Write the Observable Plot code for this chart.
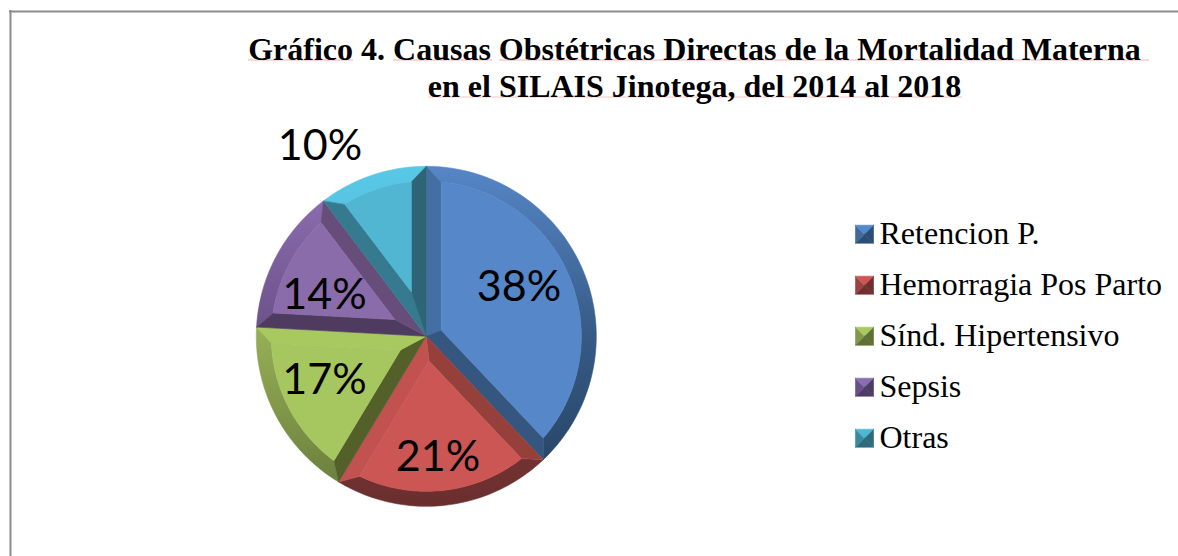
<!DOCTYPE html>
<html><head><meta charset="utf-8">
<script src="https://cdn.jsdelivr.net/npm/d3@7"></script>
<script src="https://cdn.jsdelivr.net/npm/@observablehq/plot@0.6"></script>
<style>html,body{margin:0;padding:0;background:#fff}svg{display:block}</style>
</head><body><div id="chart"></div>
<script>
const categories = ["Retencion P.", "Hemorragia Pos Parto", "Sínd. Hipertensivo", "Sepsis", "Otras"];
const cases = [11, 6, 5, 4, 3];
const titleLines = ["Gráfico 4. Causas Obstétricas Directas de la Mortalidad Materna", "en el SILAIS Jinotega, del 2014 al 2018"];
const faceColors = ["#5587c9", "#cc5654", "#a6c65f", "#8a6cab", "#50b6d2"];
const startEdgeColors = ["#446fa5", "#96403c", "#536029", "#4f3b60", "#367a90"];
const endEdgeColors = ["#35577f", "#c25250", "#a8c860", "#664d7a", "#2d6577"];
const rimTopColors = ["#5686c7", "#9c4340", "#a8c860", "#9272b8", "#58c8e6"];
const rimMidColors = ["#365a85", "#8a3c3a", "#95ae55", "#6a5088", "#52b8d6"];
const rimBottomColors = ["#24405f", "#6a2e2e", "#66783a", "#5a4478", "#4aa8c4"];
const swatchColors = [["#4f8acb","#3f6a9a","#2c4d75"],["#cf5552","#9c4240","#702f2f"],["#a8ca60","#82994a","#5f7034"],["#8a6cb0","#66508a","#4e3b66"],["#4db8d6","#368aa2","#2e6a7c"]];

const W = 1178, H = 556, cx = 425.8, cy = 335.8, R = 170, bevel = 15;
const total = d3.sum(cases);
const pt = (a, r) => ({x: cx + r * Math.sin(a), y: cy - r * Math.cos(a)});
const arc = (a0, a1, r) => d3.range(0, 61).map(i => pt(a0 + (a1 - a0) * i / 60, r));

let cum = 0;
const slices = cases.map((p, i) => {
  const a0 = cum / total * 2 * Math.PI; cum += p;
  const a1 = cum / total * 2 * Math.PI;
  const half = (a1 - a0) / 2, mid = a0 + half;
  const apex = pt(mid, bevel / Math.sin(half));
  const ri = R - bevel;
  const da = Math.asin(bevel / ri);
  const i0 = a0 + da, i1 = a1 - da;
  const center = {x: cx, y: cy};
  return {
    i,
    face: [apex, ...arc(i0, i1, ri), apex],
    rim: [...arc(a0, a1, R), ...arc(i1, i0, ri)],
    start: [center, pt(a0, R), pt(i0, ri), apex, center],
    end: [center, pt(a1, R), pt(i1, ri), apex, center]
  };
});

const defs = () => {
  const ns = "http://www.w3.org/2000/svg";
  const d = document.createElementNS(ns, "defs");
  rimTopColors.forEach((c, i) => {
    const g = document.createElementNS(ns, "linearGradient");
    g.setAttribute("id", "rim" + i);
    g.setAttribute("gradientUnits", "userSpaceOnUse");
    g.setAttribute("x1", 0); g.setAttribute("x2", 0);
    g.setAttribute("y1", cy - R); g.setAttribute("y2", cy + R);
    [[0, c], [0.5, rimMidColors[i]], [1, rimBottomColors[i]]].forEach(([o, col]) => {
      const s = document.createElementNS(ns, "stop");
      s.setAttribute("offset", o); s.setAttribute("stop-color", col);
      g.appendChild(s);
    });
    d.appendChild(g);
  });
  return d;
};

const poly = (pts, fill) => Plot.line(pts, {x: "x", y: "y", fill, stroke: fill, strokeWidth: 0.6, curve: "linear"});

const marks = [defs];
marks.push(Plot.ruleX([10], {y1: 10, y2: H, stroke: "#8c8c8c", strokeWidth: 2}));
marks.push(Plot.ruleY([11], {x1: 9, x2: W, stroke: "#8c8c8c", strokeWidth: 2}));
slices.forEach(s => {
  marks.push(poly(s.rim, `url(#rim${s.i})`));
  marks.push(poly(s.start, startEdgeColors[s.i]));
  marks.push(poly(s.end, endEdgeColors[s.i]));
  marks.push(poly(s.face, faceColors[s.i]));
});

const labelPos = [[518.5, 287], [437.5, 457], [324, 380], [324, 295], [319.5, 146]];
marks.push(Plot.text(cases.map((p, i) => ({t: Math.round(p / total * 100) + "%", x: labelPos[i][0], y: labelPos[i][1]})), {
  x: "x", y: "y", text: "t", fontFamily: "Lato", fontSize: 43, fill: "#000", textAnchor: "middle", lineAnchor: "middle"
}));

// Title
const titleFont = {fontFamily: "Liberation Serif", fontWeight: "bold", fontSize: 32, fill: "#000", lineAnchor: "bottom", textAnchor: "middle"};
[[248, 353], [393, 492], [499, 1149]].forEach(([a, b]) => marks.push(Plot.ruleY([59.5], {x1: a, x2: b, stroke: "#f7b0b0", strokeWidth: 1})));
marks.push(Plot.ruleY([96.5], {x1: 428, x2: 962, stroke: "#f5c4c4", strokeWidth: 1}));
marks.push(Plot.text([titleLines[0]], {x: () => 694, y: () => 59, text: d => d, ...titleFont}));
marks.push(Plot.text([titleLines[1]], {x: () => 694, y: () => 96, text: d => d, ...titleFont}));

// Legend
const sw = 18, lx = 855, ly0 = 233.7, ldy = 51;
categories.forEach((c, i) => {
  const y = ly0 + i * ldy, x0 = lx, x1 = lx + sw, yt = y - sw / 2, yb = y + sw / 2, m = {x: lx + sw / 2, y};
  const [a, b, e] = swatchColors[i];
  marks.push(poly([{x: x0, y: yt}, {x: x1, y: yt}, m], a));
  marks.push(poly([{x: x0, y: yt}, {x: x0, y: yb}, m], b));
  marks.push(poly([{x: x1, y: yt}, {x: x1, y: yb}, m], e));
  marks.push(poly([{x: x0, y: yb}, {x: x1, y: yb}, m], e));
});
marks.push(Plot.text(categories, {
  x: () => 879, y: (d, i) => ly0 + i * ldy, text: d => d,
  fontFamily: "Liberation Serif", fontSize: 32, fill: "#000", textAnchor: "start", lineAnchor: "middle"
}));

const chart = Plot.plot({
  width: W, height: H, margin: 0,
  x: {domain: [0, W], range: [0, W], axis: null},
  y: {domain: [0, H], range: [0, H], axis: null},
  style: {background: "#fff"},
  marks
});
document.getElementById("chart").appendChild(chart);
</script></body></html>
